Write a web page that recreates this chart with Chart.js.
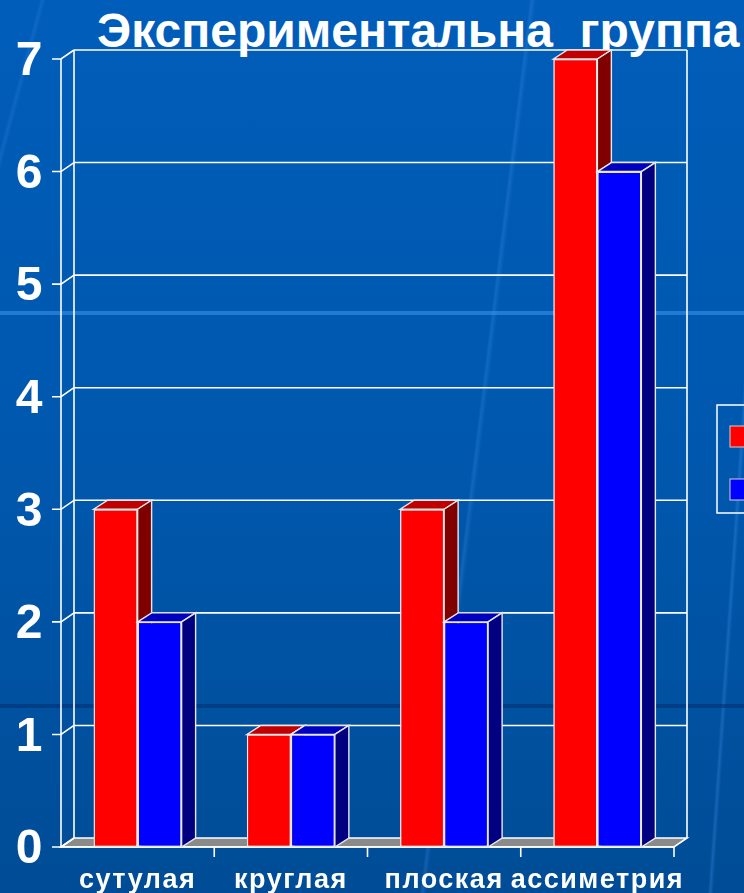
<!DOCTYPE html>
<html>
<head>
<meta charset="utf-8">
<script src="https://cdn.jsdelivr.net/npm/chart.js@4.4.1/dist/chart.umd.min.js"></script>
<style>
  html, body { margin: 0; padding: 0; }
  body {
    width: 744px; height: 893px; overflow: hidden; position: relative;
    background:
      linear-gradient(to bottom, transparent 311px, rgba(60,150,240,0.55) 311px, rgba(60,150,240,0.55) 315px, transparent 315px),
      linear-gradient(to bottom, transparent 704px, rgba(0,45,110,0.55) 704px, rgba(0,45,110,0.55) 708px, transparent 708px),
      linear-gradient(97deg, transparent 62%, rgba(70,150,240,0.25) 62.3%, transparent 62.8%),
      linear-gradient(94deg, transparent 95.5%, rgba(70,150,240,0.3) 95.8%, transparent 96.2%),
      linear-gradient(105deg, transparent 4%, rgba(70,150,240,0.2) 4.3%, transparent 4.7%),
      linear-gradient(to bottom, #005db9 0%, #0058ae 50%, #004c96 100%);
  }
  #title {
    position: absolute; left: 97px; top: 7px;
    font: bold 48px "Liberation Sans", Arial, sans-serif;
    line-height: 48px; color: #fff; white-space: pre;
  }
  canvas { position: absolute; left: 0; top: 0; }
</style>
</head>
<body>
<div id="title">Экспериментальна  группа</div>
<canvas id="chart" width="744" height="893"></canvas>
<script>
// данные диаграммы
const categories = ['сутулая', 'круглая', 'плоская', 'ассиметрия'];
const seriesNames = ['начало', 'конец'];
const redValues = [3, 1, 3, 7];
const blueValues = [2, 1, 2, 6];
const yTicks = [0, 1, 2, 3, 4, 5, 6, 7];

// глубина задней стенки и столбиков (псевдо-3D)
const WALL_DX = 13, WALL_DY = -9;
const BAR_DX = 14, BAR_DY = -9;

const faceColors = [
  { top: '#c00000', side: '#800000' },
  { top: '#0000c0', side: '#000080' }
];

function poly(ctx, pts, fill) {
  ctx.beginPath();
  ctx.moveTo(pts[0][0], pts[0][1]);
  for (let i = 1; i < pts.length; i++) ctx.lineTo(pts[i][0], pts[i][1]);
  ctx.closePath();
  if (fill) { ctx.fillStyle = fill; ctx.fill(); }
  ctx.stroke();
}

function line(ctx, x1, y1, x2, y2) {
  ctx.beginPath();
  ctx.moveTo(x1, y1);
  ctx.lineTo(x2, y2);
  ctx.stroke();
}

const box3d = {
  id: 'box3d',
  beforeDraw(chart) {
    // разрядка букв в подписях, как на слайде
    chart.ctx.letterSpacing = '1.5px';
  },
  beforeDatasetsDraw(chart) {
    const { ctx, chartArea: a, scales: { x, y } } = chart;
    const y0 = y.getPixelForValue(0);
    const yTop = y.getPixelForValue(yTicks[yTicks.length - 1]);
    ctx.save();
    ctx.strokeStyle = '#ffffff';
    ctx.lineWidth = 1.6;

    // пол
    poly(ctx, [[a.left, y0], [a.right, y0], [a.right + WALL_DX, y0 + WALL_DY], [a.left + WALL_DX, y0 + WALL_DY]], '#8a8a8a');

    // линии сетки на задней стенке + засечки
    yTicks.forEach(v => {
      const py = y.getPixelForValue(v);
      if (v > 0) line(ctx, a.left + WALL_DX, py + WALL_DY, a.right + WALL_DX, py + WALL_DY);
      ctx.beginPath();
      ctx.moveTo(a.left - 9, py);
      ctx.lineTo(a.left, py);
      ctx.lineTo(a.left + WALL_DX, py + WALL_DY);
      ctx.stroke();
    });
    line(ctx, a.left + WALL_DX, yTop + WALL_DY, a.left + WALL_DX, y0 + WALL_DY);
    line(ctx, a.right + WALL_DX, yTop + WALL_DY, a.right + WALL_DX, y0 + WALL_DY);
    line(ctx, a.left, yTop, a.left, y0);

    // ось X и засечки категорий
    line(ctx, a.left, y0, a.right, y0);
    for (let i = 1; i <= categories.length; i++) {
      const px = x.getPixelForValue(i - 0.5);
      line(ctx, px, y0, px, y0 + 10);
    }
    ctx.restore();
  },
  afterDatasetsDraw(chart) {
    const { ctx } = chart;
    ctx.save();
    // перерисовать по порядку: красный, затем синий, с боковыми гранями
    chart.data.datasets.forEach((ds, di) => {
      const meta = chart.getDatasetMeta(di);
      meta.data.forEach(el => {
        el.draw(ctx);
        const { x: cx, y: top, base, width } = el.getProps(['x', 'y', 'base', 'width'], true);
        const l = cx - width / 2, r = cx + width / 2;
        ctx.strokeStyle = '#e8e8e8';
        ctx.lineWidth = 1.4;
        poly(ctx, [[l, top], [r, top], [r + BAR_DX, top + BAR_DY], [l + BAR_DX, top + BAR_DY]], faceColors[di].top);
        poly(ctx, [[r, top], [r + BAR_DX, top + BAR_DY], [r + BAR_DX, base + BAR_DY], [r, base]], faceColors[di].side);
      });
    });
    ctx.restore();
  },
  afterDraw(chart) {
    // легенда (обрезана правым краем, как на оригинале)
    const { ctx } = chart;
    ctx.save();
    ctx.strokeStyle = '#ffffff';
    ctx.lineWidth = 1.5;
    ctx.strokeRect(717, 405, 120, 108);
    chart.data.datasets.forEach((ds, i) => {
      const ty = 426 + i * 53;
      ctx.fillStyle = ds.backgroundColor;
      ctx.fillRect(730, ty, 22, 21);
      ctx.strokeStyle = '#d0d0d0';
      ctx.lineWidth = 1;
      ctx.strokeRect(730, ty, 22, 21);
      ctx.fillStyle = '#ffffff';
      ctx.font = 'bold 20px "Liberation Sans"';
      ctx.textBaseline = 'middle';
      ctx.fillText(ds.label, 760, ty + 11);
    });
    ctx.restore();
  }
};

const ctx = document.getElementById('chart').getContext('2d');
const myChart = new Chart(ctx, {
  type: 'bar',
  data: {
    labels: categories,
    datasets: [{
      label: seriesNames[0],
      data: redValues,
      backgroundColor: '#ff0000',
      borderColor: '#e8e8e8',
      borderWidth: 1.4,
      borderSkipped: false
    }, {
      label: seriesNames[1],
      data: blueValues,
      backgroundColor: '#0000ff',
      borderColor: '#e8e8e8',
      borderWidth: 1.4,
      borderSkipped: false
    }]
  },
  options: {
    responsive: false,
    animation: false,
    categoryPercentage: 0.574,
    barPercentage: 1,
    layout: { padding: { top: 59, right: 70, left: 0, bottom: 0 } },
    plugins: {
      legend: { display: false },
      tooltip: { enabled: false },
      title: { display: false }
    },
    scales: {
      x: {
        grid: { display: false, drawTicks: false },
        border: { display: false },
        ticks: {
          color: '#ffffff',
          font: { family: 'Liberation Sans', size: 27, weight: 'bold' },
          padding: 17,
          maxRotation: 0,
          autoSkip: false
        },
        afterFit: s => { s.height = 46; }
      },
      y: {
        min: 0,
        max: 7,
        grid: { display: false, drawTicks: false },
        border: { display: false },
        ticks: {
          stepSize: 1,
          color: '#ffffff',
          font: { family: 'Liberation Sans', size: 48, weight: 'bold' },
          padding: 17,
          labelOffset: 3
        },
        afterFit: s => { s.width = 61; }
      }
    }
  },
  plugins: [box3d]
});
</script>
</body>
</html>
